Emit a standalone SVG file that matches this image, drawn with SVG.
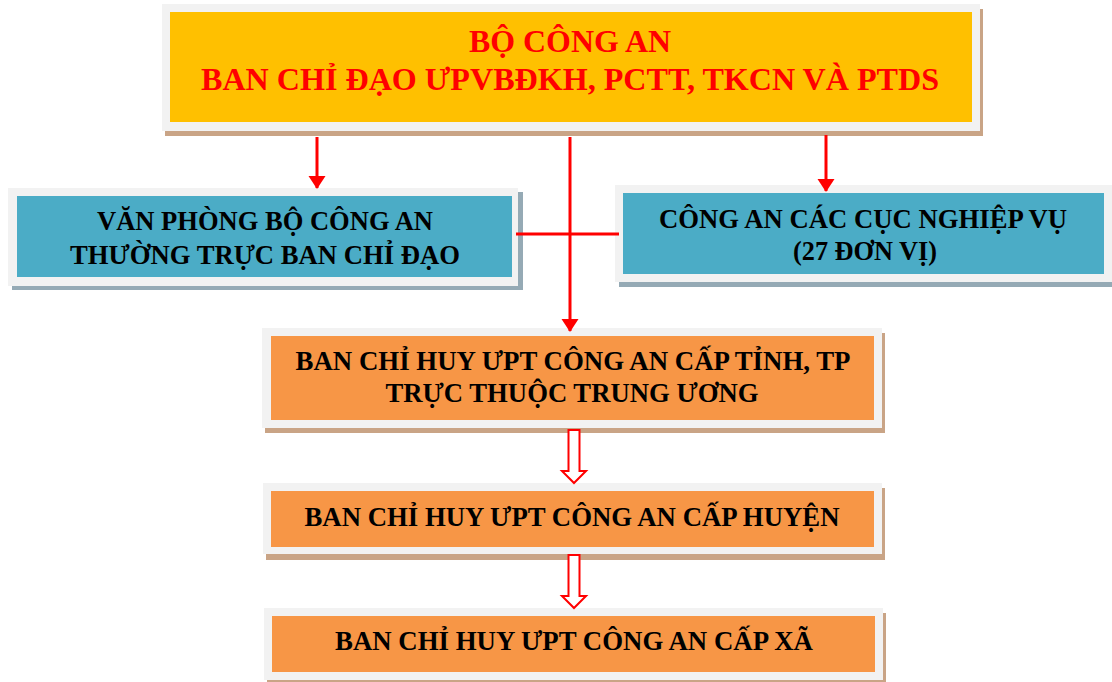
<svg xmlns="http://www.w3.org/2000/svg" width="1112" height="682" viewBox="0 0 1112 682">
<style>
.frame{fill:#f2f2f2}
.sh-o{fill:#c9a486}
.sh-b{fill:#95aab5}
.yel{fill:#ffc000}
.blu{fill:#4bacc6}
.org{fill:#f79646}
.t{font-family:"Liberation Serif","Times New Roman",serif;font-weight:bold;text-anchor:middle}
.tr{fill:#ff0000;font-size:32px}
.tb{fill:#000;font-size:27px}
.ln{stroke:#ff0000;stroke-width:3;fill:none}
.hollow{fill:#fff;stroke:#ff0000;stroke-width:2}
</style>
<defs>
<marker id="ah" markerUnits="userSpaceOnUse" markerWidth="14" markerHeight="18" refX="12" refY="8.5" orient="auto" overflow="visible">
<polygon points="0,0 13,8.5 0,17" fill="#ff0000"/>
</marker>
</defs>
<rect width="1112" height="682" fill="#ffffff"/>

<g id="node-top">
<rect class="sh-o" x="165" y="9" width="818" height="127"/>
<rect class="frame" x="162" y="4" width="818" height="127"/>
<rect class="yel" x="170" y="12" width="802" height="110"/>
<text class="t tr" x="570" y="52" textLength="202" lengthAdjust="spacingAndGlyphs">BỘ CÔNG AN</text>
<text class="t tr" x="570" y="90" textLength="738" lengthAdjust="spacingAndGlyphs">BAN CHỈ ĐẠO ƯPVBĐKH, PCTT, TKCN VÀ PTDS</text>
</g>

<g id="node-vanphong">
<rect class="sh-b" x="12" y="192" width="511" height="98"/>
<rect class="frame" x="8" y="188" width="510" height="98"/>
<rect class="blu" x="17" y="196" width="495" height="81"/>
<text class="t tb" x="265" y="230" textLength="336" lengthAdjust="spacingAndGlyphs">VĂN PHÒNG BỘ CÔNG AN</text>
<text class="t tb" x="265" y="264" textLength="390" lengthAdjust="spacingAndGlyphs">THƯỜNG TRỰC BAN CHỈ ĐẠO</text>
</g>

<g id="node-cuc">
<rect class="sh-b" x="619" y="189" width="497" height="98"/>
<rect class="frame" x="615" y="185" width="497" height="97"/>
<rect class="blu" x="623" y="193" width="481" height="81"/>
<text class="t tb" x="863" y="228" textLength="408" lengthAdjust="spacingAndGlyphs">CÔNG AN CÁC CỤC NGHIỆP VỤ</text>
<text class="t tb" x="865" y="260" textLength="144" lengthAdjust="spacingAndGlyphs">(27 ĐƠN VỊ)</text>
</g>

<g id="node-tinh">
<rect class="sh-o" x="265" y="333" width="620" height="100"/>
<rect class="frame" x="262" y="328" width="620" height="100"/>
<rect class="org" x="271" y="336" width="603" height="84"/>
<text class="t tb" x="573" y="370" textLength="555" lengthAdjust="spacingAndGlyphs">BAN CHỈ HUY ƯPT CÔNG AN CẤP TỈNH, TP</text>
<text class="t tb" x="572" y="402" textLength="373" lengthAdjust="spacingAndGlyphs">TRỰC THUỘC TRUNG ƯƠNG</text>
</g>

<g id="node-huyen">
<rect class="sh-o" x="266" y="488" width="619" height="72"/>
<rect class="frame" x="263" y="483" width="619" height="71"/>
<rect class="org" x="271" y="491" width="603" height="56"/>
<text class="t tb" x="572" y="526" textLength="535" lengthAdjust="spacingAndGlyphs">BAN CHỈ HUY ƯPT CÔNG AN CẤP HUYỆN</text>
</g>

<g id="node-xa">
<rect class="sh-o" x="267" y="613" width="619" height="72"/>
<rect class="frame" x="264" y="608" width="619" height="72"/>
<rect class="org" x="272" y="616" width="603" height="56"/>
<text class="t tb" x="574" y="650" textLength="478" lengthAdjust="spacingAndGlyphs">BAN CHỈ HUY ƯPT CÔNG AN CẤP XÃ</text>
</g>

<g id="connectors">
<line class="ln" x1="317" y1="137" x2="317" y2="188" marker-end="url(#ah)"/>
<line class="ln" x1="826" y1="135" x2="826" y2="191" marker-end="url(#ah)"/>
<line class="ln" x1="570" y1="137" x2="570" y2="331" marker-end="url(#ah)"/>
<line class="ln" x1="516" y1="234" x2="619" y2="234"/>
<polygon class="hollow" points="568.5,430 579.5,430 579.5,471 586,471 574,483 562,471 568.5,471"/>
<polygon class="hollow" points="568.5,555 579.5,555 579.5,596 586,596 574,608 562,596 568.5,596"/>
</g>
</svg>
